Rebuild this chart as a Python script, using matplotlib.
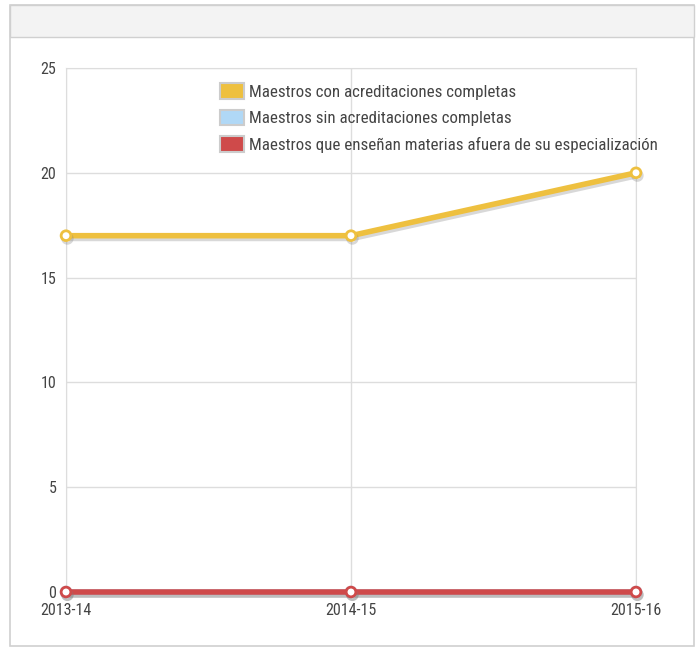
import matplotlib.pyplot as plt
import matplotlib.patheffects as pe
from matplotlib.patches import Rectangle, Patch
import numpy as np

years = ['2013-14', '2014-15', '2015-16']
con_acred = [17, 17, 20]
sin_acred = [0, 0, 0]
fuera_esp = [0, 0, 0]
labels = ['Maestros con acreditaciones completas',
          'Maestros sin acreditaciones completas',
          'Maestros que enseñan materias afuera de su especialización']
colors = ['#EEC03F', '#B0D8F6', '#CF4A4A']

plt.rcParams['font.family'] = ['Roboto Condensed', 'DejaVu Sans Condensed', 'DejaVu Sans']

W, H = 698, 648
fig = plt.figure(figsize=(W / 100, H / 100), dpi=100)

# outer panel and header band
fig.patches.append(Rectangle((10 / W, 1 - 646 / H), 684 / W, 641 / H, transform=fig.transFigure,
                             facecolor='white', edgecolor='#D0D0D0', lw=1.2, zorder=-3))
fig.patches.append(Rectangle((10 / W, 1 - 37 / H), 684 / W, 32 / H, transform=fig.transFigure,
                             facecolor='#F3F3F3', edgecolor='#D0D0D0', lw=1.0, zorder=-2))

ax = fig.add_axes([66 / W, 1 - 592 / H, 570 / W, 524 / H])
ax.set_zorder(2)
x = np.arange(len(years))
shadow = [pe.SimpleLineShadow(offset=(1, -2), shadow_color='gray', alpha=0.3), pe.Normal()]

for vals, c, z in [(sin_acred, colors[1], 3), (fuera_esp, colors[2], 4), (con_acred, colors[0], 5)]:
    ax.plot(x, vals, color=c, lw=4, zorder=z, path_effects=shadow,
            marker='o', ms=7, mfc='white', mec=c, mew=2, clip_on=False)

ax.set_xlim(0, 2)
ax.set_ylim(0, 25)
ax.set_yticks([0, 5, 10, 15, 20, 25])
ax.set_xticks(x)
ax.set_xticklabels(years)
ax.grid(True, color='#DDDDDD', lw=1)
ax.set_axisbelow(True)
for s in ax.spines.values():
    s.set_color('#DDDDDD')
ax.tick_params(length=0, labelsize=11.5, labelcolor='#444444')
ax.tick_params(axis='x', pad=8)
ax.tick_params(axis='y', pad=7)

handles = [Patch(facecolor=c, edgecolor='#CCCCCC', lw=1.5) for c in colors]
leg = ax.legend(handles, labels, loc='upper left', bbox_to_anchor=(0.271, 0.971),
                frameon=False, handlelength=1.4, handleheight=1.05, handletextpad=0.3,
                labelspacing=0.58, borderaxespad=0, borderpad=0,
                prop={'size': 12.2})
for t in leg.get_texts():
    t.set_color('#444444')

fig.savefig('out.png', dpi=100)
